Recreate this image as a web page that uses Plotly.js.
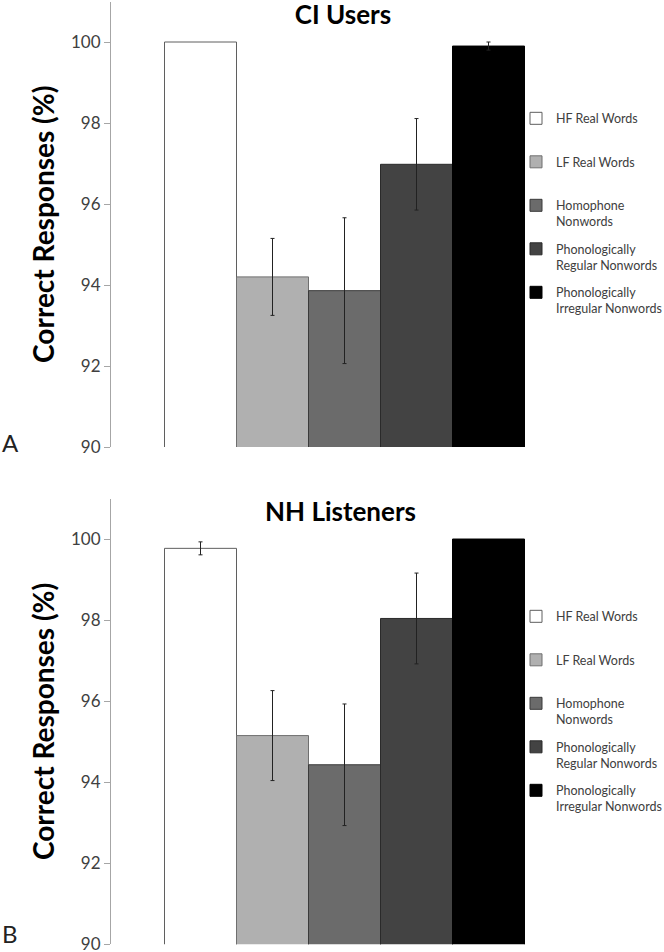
<!DOCTYPE html>
<html>
<head>
<meta charset="utf-8">
<script src="https://cdn.plot.ly/plotly-3.0.1.min.js"></script>
<style>html,body{margin:0;padding:0;background:#fff;}#chart{width:664px;height:952px;}</style>
</head>
<body>
<div id="chart"></div>
<script>
// ---- data ----
const conditions = ['HF Real Words', 'LF Real Words', 'Homophone Nonwords', 'Phonologically Regular Nonwords', 'Phonologically Irregular Nonwords'];
const legendLabels = ['HF Real Words<br> ', 'LF Real Words<br> ', 'Homophone<br>Nonwords', 'Phonologically<br>Regular Nonwords', 'Phonologically<br>Irregular Nonwords'];
const groupCategory = ['All conditions'];
const ciMeans = [100, 94.2, 93.86, 96.98, 99.9];
const ciErrors = [0, 0.95, 1.8, 1.13, 0.1];
const nhMeans = [99.77, 95.15, 94.43, 98.04, 100];
const nhErrors = [0.16, 1.11, 1.5, 1.12, 0];
const yTicks = [90, 92, 94, 96, 98, 100];

// ---- styles ----
const fills = ['#ffffff', '#b0b0b0', '#6b6b6b', '#434343', '#000000'];
const outlines = ['#5f5f5f', '#6f6f6f', '#3a3a3a', '#2a2a2a', '#000000'];
const FONT = 'Lato, "Open Sans", sans-serif';

function makeTraces(means, errs, xa, ya, leg, prefix) {
  return conditions.map((c, i) => ({
    type: 'bar',
    x: groupCategory,
    y: [means[i]],
    name: legendLabels[i],
    legend: leg,
    legendgroup: prefix + i,
    xaxis: xa, yaxis: ya,
    marker: {color: fills[i], line: {color: outlines[i], width: 1}},
    error_y: {type: 'data', array: [errs[i]], visible: errs[i] > 0, color: '#222', thickness: 1, width: 2},
    hovertemplate: c + ': %{y}%<extra></extra>'
  }));
}

const data = [].concat(
  makeTraces(ciMeans, ciErrors, 'x', 'y', 'legend', 'ci'),
  makeTraces(nhMeans, nhErrors, 'x2', 'y2', 'legend2', 'nh')
);

const H = 952, W = 664;
const xDom = [110 / W, 579 / W];
const yAxisCommon = {
  range: [90, 101],
  tickvals: yTicks,
  ticks: 'outside', ticklen: 6, tickcolor: '#a6a6a6', tickwidth: 1,
  showline: true, linecolor: '#a6a6a6', linewidth: 1,
  showgrid: false, zeroline: false,
  ticklabeloverflow: 'allow',
  tickfont: {family: FONT, size: 17, color: '#404040'},
  title: {text: 'Correct Responses (%)', font: {family: FONT, size: 28, color: '#000', weight: 'bold'}, standoff: 7},
  anchor: 'free'
};
const xAxisCommon = {showline: false, showticklabels: false, ticks: '', showgrid: false, zeroline: false, range: [-0.5, 0.5], autorange: false};

const legendCommon = {
  xref: 'paper', yref: 'paper', x: 516 / W, xanchor: 'left', yanchor: 'top',
  font: {family: FONT, size: 12.5, color: '#404040'},
  traceorder: 'grouped', tracegroupgap: 8, valign: 'top',
  bgcolor: 'rgba(0,0,0,0)', borderwidth: 0
};

const layout = {
  width: W, height: H,
  margin: {l: 0, r: 0, t: 0, b: 0, autoexpand: false},
  paper_bgcolor: '#fff', plot_bgcolor: '#fff',
  barmode: 'group', bargap: 0.2324, bargroupgap: 0,
  showlegend: true,
  title: {text: 'CI Users', font: {family: FONT, size: 26, color: '#000', weight: 'bold'}, x: 343 / W, xanchor: 'center', y: 1 - 15 / H, yanchor: 'middle'},
  xaxis: Object.assign({domain: xDom, anchor: 'y'}, xAxisCommon),
  yaxis: Object.assign({domain: [1 - 447 / H, 1 - 1.5 / H], position: xDom[0]}, yAxisCommon),
  xaxis2: Object.assign({domain: xDom, anchor: 'y2'}, xAxisCommon),
  yaxis2: Object.assign({domain: [1 - 944.3 / H, 1 - 498.5 / H], position: xDom[0]}, yAxisCommon),
  legend: Object.assign({y: 1 - 103.7 / H}, legendCommon),
  legend2: Object.assign({y: 1 - 601.7 / H}, legendCommon),
  annotations: [
    {text: 'NH Listeners', xref: 'paper', yref: 'paper', x: 341 / W, y: 1 - 511 / H, xanchor: 'center', yanchor: 'middle', showarrow: false, font: {family: FONT, size: 26, color: '#000', weight: 'bold'}},
    {text: 'A', xref: 'paper', yref: 'paper', x: 0, y: 1 - 442 / H, xanchor: 'left', yanchor: 'middle', showarrow: false, font: {family: FONT, size: 24, color: '#222'}},
    {text: 'B', xref: 'paper', yref: 'paper', x: 0, y: 1 - 933 / H, xanchor: 'left', yanchor: 'middle', showarrow: false, font: {family: FONT, size: 24, color: '#222'}}
  ]
};

Plotly.newPlot('chart', data, layout, {displayModeBar: false, responsive: false});
</script>
</body>
</html>
